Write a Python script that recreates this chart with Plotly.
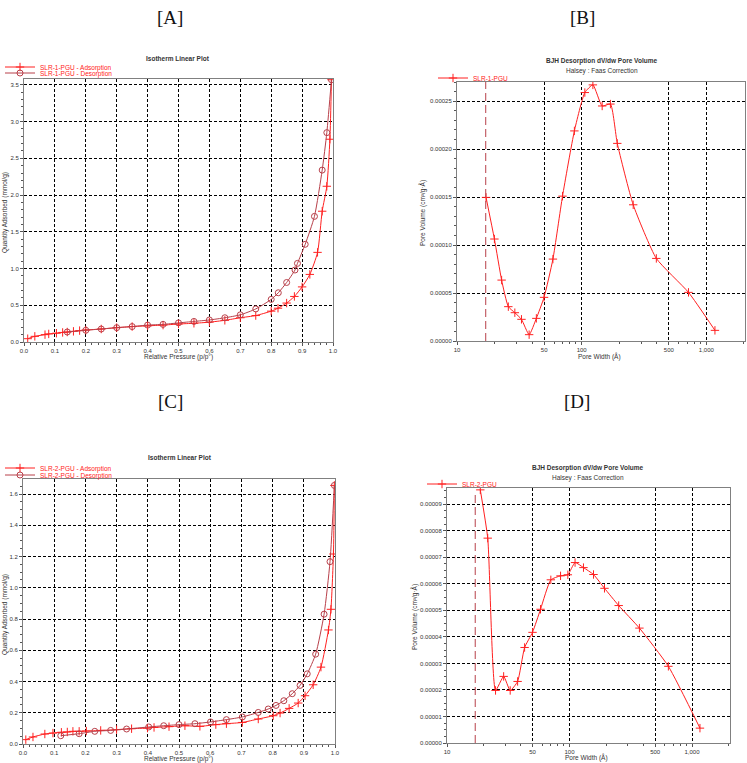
import plotly.graph_objects as go

W, H = 747, 763

# ---------------- Panel A: SLR-1-PGU isotherm ----------------
a_ads_p = [0.012, 0.035, 0.068, 0.08, 0.105, 0.125, 0.14, 0.16, 0.18, 0.2, 0.25, 0.3, 0.35, 0.4, 0.45,
           0.5, 0.55, 0.6, 0.65, 0.7, 0.75, 0.8, 0.822, 0.85, 0.875, 0.9, 0.925, 0.95, 0.965, 0.98, 0.99, 0.995]
a_ads_q = [0.045, 0.077, 0.10, 0.11, 0.12, 0.13, 0.136, 0.145, 0.155, 0.163, 0.177, 0.195, 0.21, 0.22, 0.23,
           0.245, 0.255, 0.27, 0.295, 0.33, 0.36, 0.42, 0.46, 0.53, 0.62, 0.75, 0.92, 1.22, 1.78, 2.12, 2.76, 3.57]
a_des_p = [0.995, 0.98, 0.965, 0.94, 0.91, 0.885, 0.877, 0.85, 0.823, 0.8, 0.75, 0.7, 0.65, 0.6, 0.55,
           0.5, 0.45, 0.4, 0.35, 0.3, 0.25, 0.2, 0.14]
a_des_q = [3.57, 2.85, 2.34, 1.71, 1.33, 1.07, 0.98, 0.81, 0.67, 0.58, 0.45, 0.37, 0.33, 0.30, 0.28,
           0.26, 0.24, 0.23, 0.21, 0.195, 0.177, 0.16, 0.136]

# ---------------- Panel B: SLR-1-PGU BJH ----------------
b_width = [17.1, 19.95, 22.8, 25.8, 29.1, 32.9, 37.9, 43.3, 49.9, 58.8, 70.2, 87.4, 106, 123, 146, 170,
           193, 259, 397, 719, 1172]
b_volume = [0.0001497, 0.0001063, 0.0000635, 0.0000358, 0.0000295, 0.0000226, 0.0000066, 0.0000236,
            0.0000455, 0.0000854, 0.000151, 0.000219, 0.000259, 0.000267, 0.000245, 0.000247,
            0.000206, 0.000142, 0.0000861, 0.0000507, 0.0000111]

# ---------------- Panel C: SLR-2-PGU isotherm ----------------
c_ads_p = [0.009, 0.032, 0.07, 0.096, 0.123, 0.142, 0.16, 0.18, 0.203, 0.249, 0.3, 0.348, 0.399, 0.42,
           0.468, 0.519, 0.567, 0.618, 0.652, 0.703, 0.754, 0.802, 0.824, 0.853, 0.882, 0.904, 0.93,
           0.955, 0.979, 0.987, 0.995, 0.998]
c_ads_q = [0.028, 0.045, 0.064, 0.07, 0.075, 0.077, 0.081, 0.081, 0.083, 0.087, 0.092, 0.098, 0.102, 0.106,
           0.111, 0.117, 0.113, 0.124, 0.13, 0.138, 0.16, 0.181, 0.198, 0.228, 0.262, 0.309, 0.379,
           0.492, 0.73, 0.862, 1.216, 1.655]
c_des_p = [0.998, 0.984, 0.965, 0.938, 0.911, 0.888, 0.863, 0.836, 0.811, 0.786, 0.754, 0.703, 0.652,
           0.601, 0.551, 0.5, 0.451, 0.403, 0.332, 0.281, 0.23, 0.18, 0.121]
c_des_q = [1.655, 1.167, 0.831, 0.575, 0.449, 0.375, 0.322, 0.277, 0.247, 0.224, 0.202, 0.173, 0.156,
           0.141, 0.13, 0.124, 0.117, 0.109, 0.096, 0.087, 0.081, 0.066, 0.053]

# ---------------- Panel D: SLR-2-PGU BJH ----------------
d_width = [18.7, 21.5, 24.9, 29.0, 32.8, 37.7, 43.0, 49.9, 58.0, 70.4, 84.5, 96.9, 111, 130, 157, 193,
           252, 372, 641, 1161]
d_volume = [9.54e-5, 7.72e-5, 1.98e-5, 2.51e-5, 1.98e-5, 2.32e-5, 3.6e-5, 4.17e-5, 5.04e-5, 6.15e-5,
            6.3e-5, 6.34e-5, 6.8e-5, 6.61e-5, 6.35e-5, 5.83e-5, 5.18e-5, 4.33e-5, 2.89e-5, 5.6e-6]

# BJH lower-limit marker (dashed vertical line), Å
b_limit = 17.0
d_limit = 17.0

# Tick labels
iso_x_ticks = [0.0, 0.1, 0.2, 0.3, 0.4, 0.5, 0.6, 0.7, 0.8, 0.9, 1.0]
log_ticks = [10, 50, 100, 500, 1000]
log_ticktext = ["10", "50", "100", "500", "1,000"]
log_minor = [20, 30, 40, 60, 70, 80, 90, 200, 300, 400, 600, 700, 800, 900, 2000]

RED = "#ff2020"
DES = "#b8404a"
FONT = "Liberation Sans"


def px(x):
    return x / W


def py(y):
    return 1 - y / H


fig = go.Figure()

CROSS = dict(symbol="cross-thin", size=6, line=dict(color=RED, width=1))
CIRC = dict(symbol="circle-open", size=6, line=dict(color=RED, width=1))

fig.add_trace(go.Scatter(x=a_ads_p, y=a_ads_q, mode="lines+markers", name="SLR-1-PGU - Adsorption",
                         line=dict(color=RED, width=1, shape="spline", smoothing=0.6), marker=CROSS,
                         xaxis="x", yaxis="y", legend="legend"))
fig.add_trace(go.Scatter(x=a_des_p, y=a_des_q, mode="lines+markers", name="SLR-1-PGU - Desorption",
                         line=dict(color=DES, width=1, shape="spline", smoothing=0.6), marker=CIRC,
                         xaxis="x", yaxis="y", legend="legend2"))
fig.add_trace(go.Scatter(x=b_width, y=b_volume, mode="lines+markers", name="SLR-1-PGU",
                         line=dict(color=RED, width=1, shape="spline", smoothing=0.5), marker=CROSS,
                         xaxis="x2", yaxis="y2", legend="legend3"))
fig.add_trace(go.Scatter(x=c_ads_p, y=c_ads_q, mode="lines+markers", name="SLR-2-PGU - Adsorption",
                         line=dict(color=RED, width=1, shape="spline", smoothing=0.6), marker=CROSS,
                         xaxis="x3", yaxis="y3", legend="legend4"))
fig.add_trace(go.Scatter(x=c_des_p, y=c_des_q, mode="lines+markers", name="SLR-2-PGU - Desorption",
                         line=dict(color=DES, width=1, shape="spline", smoothing=0.6), marker=CIRC,
                         xaxis="x3", yaxis="y3", legend="legend5"))
fig.add_trace(go.Scatter(x=d_width, y=d_volume, mode="lines+markers", name="SLR-2-PGU",
                         line=dict(color=RED, width=1, shape="spline", smoothing=0.5), marker=CROSS,
                         xaxis="x4", yaxis="y4", legend="legend6"))

fig.add_shape(type="line", xref="x2", yref="y2 domain", x0=b_limit, x1=b_limit, y0=0, y1=1,
              line=dict(color=DES, width=1, dash="8px,4px"))
fig.add_shape(type="line", xref="x4", yref="y4 domain", x0=d_limit, x1=d_limit, y0=0, y1=0.98,
              line=dict(color=DES, width=1, dash="8px,4px"))

MINOR = dict(ticks="outside", ticklen=2, tickcolor="#555")
GRID = dict(showgrid=True, gridcolor="#000000", gridwidth=1, griddash="3px,2px", automargin=False,
            showline=True, linecolor="#808080", linewidth=1, mirror=True, zeroline=False,
            ticks="outside", ticklen=3, tickcolor="#555", tickwidth=1,
            tickfont=dict(family=FONT, size=6, color="#333"))


def ax(**kw):
    d = dict(GRID)
    d.update(kw)
    return d


layout = dict(
    width=W, height=H, margin=dict(l=0, r=0, t=0, b=0, autoexpand=False),
    paper_bgcolor="white", plot_bgcolor="white",
    font=dict(family=FONT, size=6, color="#333"),
    xaxis=ax(domain=[px(24), px(333)], anchor="y", range=[0, 1.0], tickvals=iso_x_ticks,
             tickformat=".1f", minor=dict(dtick=0.02, **MINOR)),
    yaxis=ax(domain=[py(342), py(79)], anchor="x", range=[0, 3.58], dtick=0.5, tickformat=".1f",
             minor=dict(dtick=0.1, **MINOR)),
    xaxis2=ax(domain=[px(457), px(745)], anchor="y2", type="log", range=[1, 3.31],
              tickvals=log_ticks, ticktext=log_ticktext, minor=dict(tickvals=log_minor, **MINOR)),
    yaxis2=ax(domain=[py(341), py(82)], anchor="x2", range=[0, 0.00027], dtick=0.00005,
              tickformat=".5f", minor=dict(dtick=0.00001, **MINOR)),
    xaxis3=ax(domain=[px(23), px(335)], anchor="y3", range=[0, 1.0], tickvals=iso_x_ticks,
              tickformat=".1f", minor=dict(dtick=0.02, **MINOR)),
    yaxis3=ax(domain=[py(744), py(479)], anchor="x3", range=[0, 1.696], dtick=0.2, tickformat=".1f",
              minor=dict(dtick=0.05, **MINOR)),
    xaxis4=ax(domain=[px(447), px(730)], anchor="y4", type="log", range=[1, 3.31],
              tickvals=log_ticks, ticktext=log_ticktext, minor=dict(tickvals=log_minor, **MINOR)),
    yaxis4=ax(domain=[py(743), py(488)], anchor="x4", range=[0, 0.0000961], dtick=0.00001,
              tickformat=".5f", minor=dict(dtick=0.0000025, **MINOR)),
)


def leg(x, y):
    return dict(x=px(x), y=py(y), xref="container", yref="container", xanchor="left", yanchor="middle",
                bgcolor="rgba(0,0,0,0)", borderwidth=0, font=dict(family=FONT, size=6.5, color=RED),
                itemwidth=30, tracegroupgap=0)


layout["legend"] = leg(0, 67)
layout["legend2"] = leg(0, 73)
layout["legend3"] = leg(433, 78)
layout["legend4"] = leg(0, 468)
layout["legend5"] = leg(0, 475)
layout["legend6"] = leg(422, 484)
fig.update_layout(**layout)

ann = []


def text(x, y, s, size=6.5, bold=False, angle=0, color="#333", family=FONT):
    ann.append(dict(x=px(x), y=py(y), xref="paper", yref="paper", text=("<b>%s</b>" % s) if bold else s,
                    showarrow=False, textangle=angle, xanchor="center", yanchor="middle",
                    font=dict(family=family, size=size, color=color)))


text(170, 18, "[A]", size=19, family="Liberation Serif", color="#111")
text(582, 18, "[B]", size=19, family="Liberation Serif", color="#111")
text(170, 401, "[C]", size=19, family="Liberation Serif", color="#111")
text(577, 401, "[D]", size=19, family="Liberation Serif", color="#111")

text(178, 58, "Isotherm Linear Plot", bold=True)
text(602, 61, "BJH Desorption dV/dw Pore Volume", bold=True)
text(602, 71, "Halsey : Faas Correction")
text(180, 457, "Isotherm Linear Plot", bold=True)
text(588, 468, "BJH Desorption dV/dw Pore Volume", bold=True)
text(588, 478, "Halsey : Faas Correction")

text(178, 357, "Relative Pressure (p/p°)")
text(599, 356, "Pore Width (Å)")
text(178, 758.5, "Relative Pressure (p/p°)")
text(586, 757, "Pore Width (Å)")
text(5, 213, "Quantity Adsorbed (mmol/g)", angle=-90)
text(423, 213, "Pore Volume (cm³/g·Å)", angle=-90)
text(5, 615, "Quantity Adsorbed (mmol/g)", angle=-90)
text(414, 617, "Pore Volume (cm³/g·Å)", angle=-90)

fig.update_layout(annotations=ann, showlegend=True)
fig.write_html("out.html", config={"displayModeBar": False},
               post_script="document.body.style.margin='0';")
